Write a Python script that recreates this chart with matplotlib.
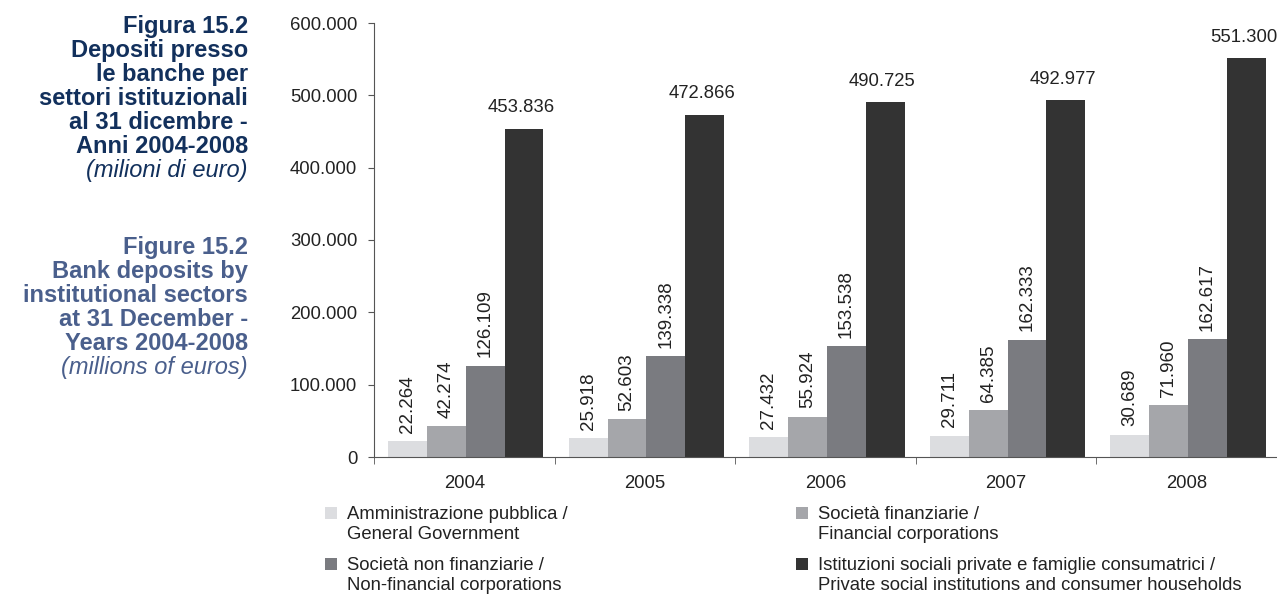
import numpy as np
import matplotlib.pyplot as plt
from matplotlib.patches import Rectangle
from matplotlib.ticker import FuncFormatter, FixedLocator

plt.rcParams['font.family'] = ['Liberation Sans', 'DejaVu Sans']

years = ['2004', '2005', '2006', '2007', '2008']
series_names = [
    'Amministrazione pubblica /\nGeneral Government',
    'Società finanziarie /\nFinancial corporations',
    'Società non finanziarie /\nNon-financial corporations',
    'Istituzioni sociali private e famiglie consumatrici /\nPrivate social institutions and consumer households',
]
pubblica = [22264, 25918, 27432, 29711, 30689]
finanziarie = [42274, 52603, 55924, 64385, 71960]
non_finanziarie = [126109, 139338, 153538, 162333, 162617]
famiglie = [453836, 472866, 490725, 492977, 551300]
colors = ['#dcdde0', '#a5a6aa', '#7a7b80', '#333333']

W, H = 1277, 595

def fmt(v):
    return f'{v:,.0f}'.replace(',', '.')

fig = plt.figure(figsize=(W / 100, H / 100), dpi=100)
ax = fig.add_axes([374 / W, 1 - 457 / H, (W - 374) / W, (457 - 23) / H])

x = np.arange(len(years))
w = 0.215
data = [pubblica, finanziarie, non_finanziarie, famiglie]
for i, vals in enumerate(data):
    pos = x + (i - 1.5) * w + 0.008
    ax.bar(pos, vals, width=w, color=colors[i], label=series_names[i])
    for px, v in zip(pos, vals):
        if i < 3:
            ax.annotate(fmt(v), (px, v), xytext=(0, 6), textcoords='offset points',
                        rotation=90, ha='center', va='bottom', fontsize=13.5, color='#222222')
        else:
            ax.annotate(fmt(v), (px, v), xytext=(-2, 9), textcoords='offset points',
                        ha='center', va='bottom', fontsize=13.3, color='#222222')

ax.set_xlim(-0.5, 4.5)
ax.set_ylim(0, 600000)
ax.set_yticks(np.arange(0, 600001, 100000))
ax.yaxis.set_major_formatter(FuncFormatter(lambda v, p: fmt(v)))
ax.set_xticks(x)
ax.set_xticklabels(years)
ax.xaxis.set_minor_locator(FixedLocator(np.arange(-0.5, 4.6, 1.0)))
ax.tick_params(axis='x', which='major', length=0, pad=13, labelsize=13.3, labelcolor='#222222')
ax.tick_params(axis='x', which='minor', length=5, color='#555555', direction='out')
ax.tick_params(axis='y', length=4, color='#555555', labelsize=13.3, labelcolor='#222222', pad=8)
for s in ['top', 'right']:
    ax.spines[s].set_visible(False)
for s in ['left', 'bottom']:
    ax.spines[s].set_color('#555555')

# legend drawn by hand: marker aligned with the first line of each label
leg_pos = [(325, 513), (796, 513), (325, 564), (796, 564)]
for i, (lx, ly) in enumerate(leg_pos):
    fig.add_artist(Rectangle((lx / W, 1 - (ly + 6) / H), 12 / W, 12 / H,
                             transform=fig.transFigure, color=colors[i], lw=0))
    fig.text((lx + 22) / W, 1 - (ly - 7) / H, series_names[i], ha='left', va='top',
             fontsize=13.3, color='#222222', linespacing=1.26)

title_it = ['Figura 15.2', 'Depositi presso', 'le banche per', 'settori istituzionali',
            'al 31 dicembre -', 'Anni 2004-2008']
title_en = ['Figure 15.2', 'Bank deposits by', 'institutional sectors',
            'at 31 December -', 'Years 2004-2008']
y0 = 26
step = 24.1
for k, line in enumerate(title_it):
    fig.text(248 / W, 1 - (y0 + k * step) / H, line, ha='right', va='center',
             fontsize=17, fontweight='bold', color='#12305c')
fig.text(248 / W, 1 - (y0 + 6 * step) / H, '(milioni di euro)', ha='right', va='center',
         fontsize=17, style='italic', color='#12305c')
y1 = 247
for k, line in enumerate(title_en):
    fig.text(248 / W, 1 - (y1 + k * step) / H, line, ha='right', va='center',
             fontsize=17, fontweight='bold', color='#4a5f8c')
fig.text(248 / W, 1 - (y1 + 5 * step) / H, '(millions of euros)', ha='right', va='center',
         fontsize=17, style='italic', color='#4a5f8c')

fig.savefig('out.png', dpi=100)
